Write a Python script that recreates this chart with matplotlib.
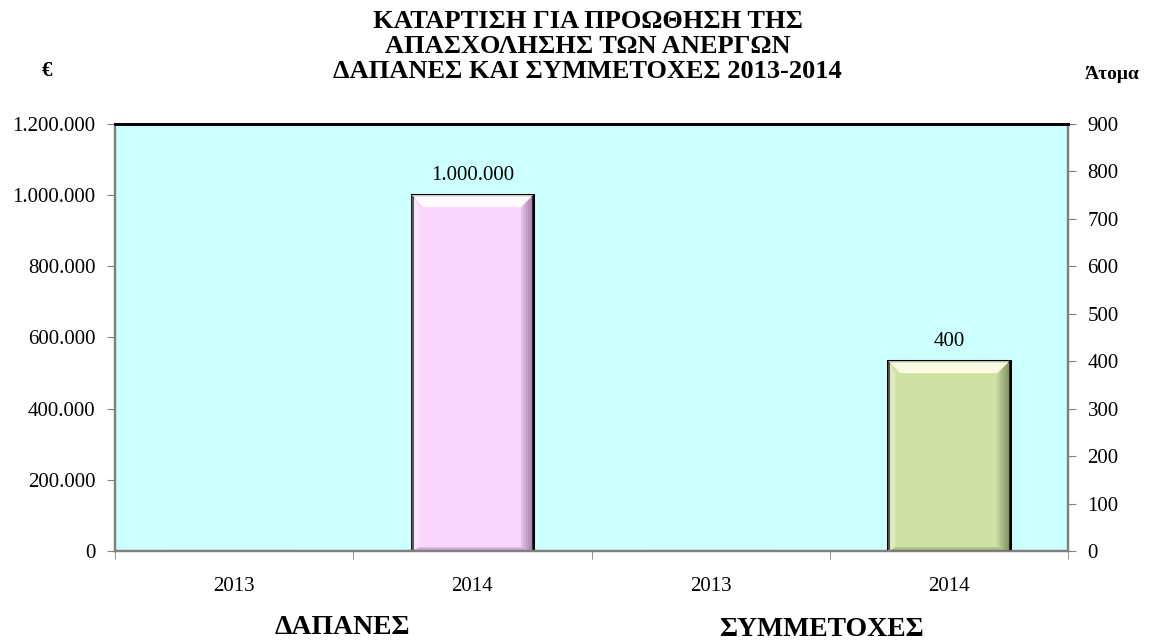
import matplotlib.pyplot as plt
from matplotlib.patches import Polygon

plt.rcParams['font.family'] = ['Liberation Serif', 'DejaVu Serif']

# ΔΑΠΑΝΕΣ (€) και ΣΥΜΜΕΤΟΧΕΣ (άτομα) ανά έτος
years = ['2013', '2014', '2013', '2014']
spend = [0, 1000000]
people = [0, 400]
spend_colors = ['#f9d7fc', '#f9d7fc']
people_colors = ['#d0e1a6', '#d0e1a6']


def fmt_gr(v):
    return f'{int(v):,}'.replace(',', '.')


def bevel(ax, rect, light, dark):
    # ανάγλυφη όψη: φωτεινή πάνω λωρίδα, σκιά δεξιά
    x, w, h = rect.get_x(), rect.get_width(), rect.get_height()
    if h <= 0:
        return
    ylo, yhi = ax.get_ylim()
    dx = w * 0.1
    dy = (yhi - ylo) * 0.028
    ax.add_patch(Polygon([(x, h), (x + w, h), (x + w - dx, h - dy), (x + dx, h - dy)],
                         closed=True, facecolor=light, edgecolor='none', zorder=3, alpha=0.9))
    ax.add_patch(Polygon([(x, h), (x + dx * 0.6, h - dy), (x + dx * 0.6, dy * 0.3), (x, 0)],
                         closed=True, facecolor=light, edgecolor='none', zorder=3, alpha=0.35))
    steps = 5
    for i in range(steps):
        x0 = x + w - dx * (steps - i) / steps
        ax.add_patch(Polygon([(x0, h - dy * (steps - i) / steps), (x + w, h),
                              (x + w, 0), (x0, dy * 0.3 * (steps - i) / steps)],
                             closed=True, facecolor=dark, edgecolor='none', zorder=3,
                             alpha=0.15))
    ax.add_patch(Polygon([(x, 0), (x + w, 0), (x + w - dx, dy * 0.3), (x + dx * 0.6, dy * 0.3)],
                         closed=True, facecolor=dark, edgecolor='none', zorder=3, alpha=0.3))


fig = plt.figure(figsize=(11.5, 6.44), dpi=100)
ax = fig.add_axes([0.1, 0.1444, 0.8287, 0.6631])
ax2 = ax.twinx()
ax.set_facecolor('#ccffff')

bars1 = ax.bar([0, 1], spend, width=0.51, color=spend_colors, edgecolor='black', linewidth=2.2, zorder=2)
bars2 = ax2.bar([2, 3], people, width=0.51, color=people_colors, edgecolor='black', linewidth=2.2, zorder=2)

ax.set_xlim(-0.5, 3.5)
ax.set_ylim(0, 1200000)
ax2.set_ylim(0, 900)
ax.set_yticks(range(0, 1200001, 200000))
ax.set_yticklabels([fmt_gr(v) for v in range(0, 1200001, 200000)])
ax2.set_yticks(range(0, 901, 100))

for b in bars1:
    bevel(ax, b, '#ffffff', '#6e4f75')
for b in bars2:
    bevel(ax2, b, '#fcfde8', '#56633c')

for b, v in zip(bars1, spend):
    if v > 0:
        ax.text(b.get_x() + b.get_width() / 2, v + 28000, fmt_gr(v),
                ha='center', va='bottom', fontsize=15)
for b, v in zip(bars2, people):
    if v > 0:
        ax2.text(b.get_x() + b.get_width() / 2, v + 21, fmt_gr(v),
                 ha='center', va='bottom', fontsize=15)

# κατηγορίες στο κέντρο, μικρές γραμμές στα όρια
ax.set_xticks([0, 1, 2, 3])
ax.set_xticklabels(years)
ax.set_xticks([-0.5, 0.5, 1.5, 2.5, 3.5], minor=True)
ax.tick_params(axis='x', which='major', length=0, labelsize=15, pad=19)
ax.tick_params(axis='x', which='minor', length=6, color='#808080', direction='out')
ax.tick_params(axis='y', labelsize=15, length=6, color='#808080', pad=8)
ax2.tick_params(axis='y', labelsize=15, length=6, color='#808080', pad=8)

for a in (ax, ax2):
    a.spines['left'].set_color('#808080')
    a.spines['right'].set_color('#808080')
    a.spines['bottom'].set_color('#808080')
    a.spines['top'].set_color('black')
    for s in a.spines.values():
        s.set_linewidth(1.6)
    a.spines['top'].set_linewidth(2)

fig.text(0.511, 0.985, 'ΚΑΤΑΡΤΙΣΗ ΓΙΑ ΠΡΟΩΘΗΣΗ ΤΗΣ\nΑΠΑΣΧΟΛΗΣΗΣ ΤΩΝ ΑΝΕΡΓΩΝ\nΔΑΠΑΝΕΣ ΚΑΙ ΣΥΜΜΕΤΟΧΕΣ 2013-2014',
         ha='center', va='top', fontsize=19, fontweight='bold', linespacing=1.12)
fig.text(0.041, 0.89, '€', ha='center', va='center', fontsize=15, fontweight='bold')
fig.text(0.967, 0.885, 'Άτομα', ha='center', va='center', fontsize=14, fontweight='bold')
fig.text(0.298, 0.025, 'ΔΑΠΑΝΕΣ', ha='center', va='center', fontsize=20, fontweight='bold')
fig.text(0.714, 0.022, 'ΣΥΜΜΕΤΟΧΕΣ', ha='center', va='center', fontsize=20, fontweight='bold')

fig.savefig('out.png', dpi=100)
